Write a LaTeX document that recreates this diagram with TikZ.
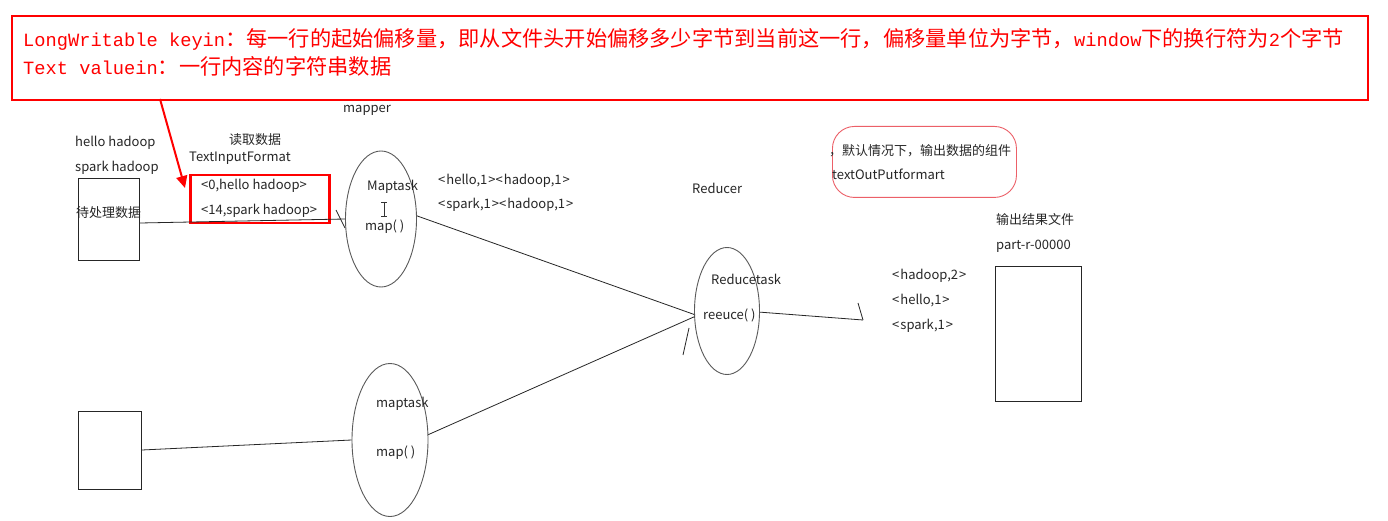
\documentclass[tikz,border=0pt]{standalone}
\usepackage{fontspec}
\setmainfont{Noto Sans CJK SC}
\newfontfamily\cjkbig[Scale=1.135]{Noto Sans CJK SC}
\newfontfamily\monofont{Liberation Mono}
\usetikzlibrary{shapes.geometric,arrows.meta}
\definecolor{pinkred}{RGB}{236,96,104}
\definecolor{inkgray}{RGB}{90,90,90}
\definecolor{purered}{RGB}{255,0,0}
\begin{document}
\begin{tikzpicture}[x=1pt,y=-1pt,
  lbl/.style={anchor=west,inner sep=0pt,font=\fontsize{13}{15}\selectfont,text=black!85,text height=9.5pt,text depth=2.5pt},
  redtxt/.style={anchor=west,inner sep=0pt,font=\fontsize{18.7}{22}\selectfont,text=purered,text height=14pt,text depth=4pt},
  ellnode/.style={draw=inkgray,ellipse,inner sep=0pt,line width=0.9pt},
  boxnode/.style={draw=black!85,inner sep=0pt,line width=0.9pt,anchor=north west},
  conn/.style={draw=black!85,line width=0.8pt}]
\useasboundingbox (0,0) rectangle (1388,521);
\fill[white] (0,0) rectangle (1388,521);

% top note
\node[draw=purered,line width=1.6pt,inner sep=0pt,minimum width=1356pt,minimum height=84pt,anchor=north west] (note) at (11,15) {};
\node[redtxt] (t1) at (23,42) {{\monofont LongWritable keyin}{\cjkbig ：每一行的起始偏移量，即从文件头开始偏移多少字节到当前这一行，偏移量单位为字节，}{\monofont window}{\cjkbig 下的换行符为}{\monofont 2}{\cjkbig 个字节}};
\node[redtxt] (t2) at (23,70) {{\monofont Text valuein}{\cjkbig ：一行内容的字符串数据}};

% input
\node[lbl] (hh) at (75,143) {hello hadoop};
\node[lbl] (sh) at (75,168) {spark hadoop};
\node[boxnode,minimum width=61pt,minimum height=82pt] (in1) at (78,178) {};
\node[lbl] (dcl) at (76,214) {待处理数据};
\node[boxnode,minimum width=63pt,minimum height=78pt] (in2) at (78,411) {};

\node[lbl] (rd) at (229,141) {读取数据};
\node[lbl] (tif) at (189,158) {TextInputFormat};
\node[draw=purered,line width=2.5pt,inner sep=0pt,minimum width=139pt,minimum height=48pt,anchor=north west] (kv) at (189,174) {};
\node[lbl] (kv1) at (201,186) {<0,hello hadoop>};
\node[lbl] (kv2) at (201,211) {<14,spark hadoop>};

\coordinate (rs) at (160,99);
\coordinate (rt) at (185,188);
\draw[purered,line width=2pt,-{Triangle[length=12pt,width=11pt]}] (rs) -- (rt);

% mapper
\node[lbl] (mp) at (343,109) {mapper};
\node[ellnode,minimum width=71pt,minimum height=136pt] (m1) at (381,219) {};
\node[lbl] (mt1) at (367,187) {Maptask};
\node[lbl] (mf1) at (365,227) {map( )};
\draw[black!80,line width=0.7pt] (381,202) -- (387,202) (384,202) -- (384,216) (381,216) -- (387,216);
\node[ellnode,minimum width=76pt,minimum height=153pt] (m2) at (390,440) {};
\node[lbl] (mt2) at (376,404) {maptask};
\node[lbl] (mf2) at (376,453) {map( )};

\node[lbl] (o1) at (438,181) {<\kern1pt hello,1\kern1pt><\kern1pt hadoop,1\kern1pt>};
\node[lbl] (o2) at (438,205) {<\kern1pt spark,1\kern1pt><\kern1pt hadoop,1\kern1pt>};

% reducer
\node[lbl] (rdc) at (692,190) {Reducer};
\node[ellnode,minimum width=65pt,minimum height=127pt] (r1) at (727,311) {};
\node[lbl] (rt1) at (711,281) {Reducetask};
\node[lbl] (rf1) at (703,316) {reeuce( )};

\node[lbl] (p1) at (892,276) {<\kern1pt hadoop,2\kern1pt>};
\node[lbl] (p2) at (892,301) {<\kern1pt hello,1\kern1pt>};
\node[lbl] (p3) at (892,326) {<\kern1pt spark,1\kern1pt>};

% output note
\node[draw=pinkred,line width=0.9pt,rounded corners=22pt,inner sep=0pt,minimum width=184pt,minimum height=71pt,anchor=north west] (on) at (832,126) {};
\node[lbl] (on1) at (829,152) {，默认情况下，输出数据的组件};
\node[lbl] (on2) at (832,176) {textOutPutformart};

\node[lbl] (of1) at (996,221) {输出结果文件};
\node[lbl] (of2) at (996,246) {part-r-00000};
\node[boxnode,minimum width=86pt,minimum height=135pt] (out) at (995,266) {};

% connectors
\draw[conn] (in1.east |- 0,223) -- (m1.west);
\coordinate (b1a) at (336,210);
\coordinate (b1b) at (345,228);
\draw[conn] (b1a) -- (b1b);
\draw[conn] (in2.east |- 0,450) -- (m2.west);
\draw[conn] (m1.5) -- (r1.186);
\draw[conn] (m2.8) -- (r1.190);
\coordinate (b2a) at (689,328);
\coordinate (b2b) at (683,355);
\draw[conn] (b2a) -- (b2b);
\coordinate (re) at (863,320);
\draw[conn] (r1.-2) -- (re);
\coordinate (b3a) at (858,303);
\draw[conn] (b3a) -- (re);
\end{tikzpicture}
\end{document}
